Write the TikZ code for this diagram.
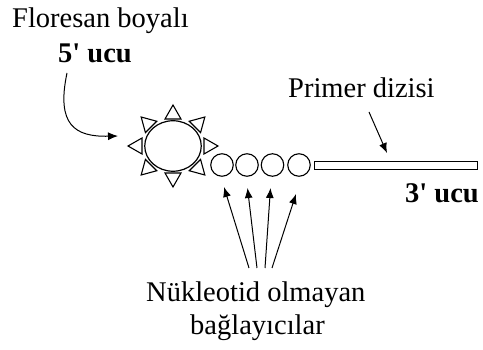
\documentclass[tikz,border=0pt]{standalone}
\usepackage{fontspec}
\newfontfamily\libserif{Liberation Serif}
\usetikzlibrary{arrows.meta,shapes.geometric}
\begin{document}
\begin{tikzpicture}[x=1pt,y=-1pt,
  lbl/.style={anchor=base west,inner sep=0pt,font=\libserif\fontsize{28.5}{33}\selectfont},
  blbl/.style={anchor=base west,inner sep=0pt,font=\libserif\fontsize{28.5}{33}\selectfont\bfseries},
  bead/.style={circle,draw,line width=1.1pt,minimum size=22.5pt,inner sep=0pt},
  arr/.style={line width=1pt,-{Latex[length=10pt,width=8pt]}},
  tri/.style={draw,fill=white,line width=1.1pt,line join=miter}]
\useasboundingbox (0,0) rectangle (483,350);
% texts
\node[lbl] (flo) at (12,28) {Floresan boyalı};
\node[blbl] (five) at (58,63) {5' ucu};
\node[lbl] (prim) at (288,98) {Primer dizisi};
\node[blbl] (three) at (405,203) {3' ucu};
\node[lbl] (nuk) at (146,302) {Nükleotid olmayan};
\node[lbl] (bag) at (190,335) {bağlayıcılar};
% dye triangles
\foreach \a in {0,45,...,315}{
  \draw[tri] ({173+31*cos(\a)-8*sin(\a)},{146+27*sin(\a)+8*cos(\a)})
    -- ({173+45*cos(\a)},{146+41*sin(\a)})
    -- ({173+31*cos(\a)+8*sin(\a)},{146+27*sin(\a)-8*cos(\a)}) -- cycle;
}
\node[ellipse,draw,fill=white,line width=1.2pt,minimum width=56.5pt,minimum height=50.5pt,inner sep=0pt] (dye) at (173,146) {};
% linker beads
\node[bead] (b1) at (222,165) {};
\node[bead] (b2) at (247,165) {};
\node[bead] (b3) at (272.5,165) {};
\node[bead] (b4) at (299,165) {};
% primer
\node[draw,line width=1pt,minimum width=163pt,minimum height=8pt,inner sep=0pt,anchor=west] (primer) at (313.5,166) {};
% arrows
\coordinate (c5) at (67,73);
\coordinate (t5) at (118,136);
\draw[arr] (c5) .. controls (56,125) and (75,137) .. (t5);
\coordinate (cp) at (369,112);
\coordinate (tp) at (387,153);
\draw[arr] (cp) -- (tp);
\coordinate (s1) at (249,268);
\coordinate (s2) at (257,268);
\coordinate (s3) at (265,268);
\coordinate (s4) at (272,268);
\coordinate (e1) at (224,187);
\coordinate (e2) at (247.5,188);
\coordinate (e3) at (270.5,188);
\coordinate (e4) at (296,194);
\draw[arr] (s1) -- (e1);
\draw[arr] (s2) -- (e2);
\draw[arr] (s3) -- (e3);
\draw[arr] (s4) -- (e4);
\end{tikzpicture}
\end{document}
